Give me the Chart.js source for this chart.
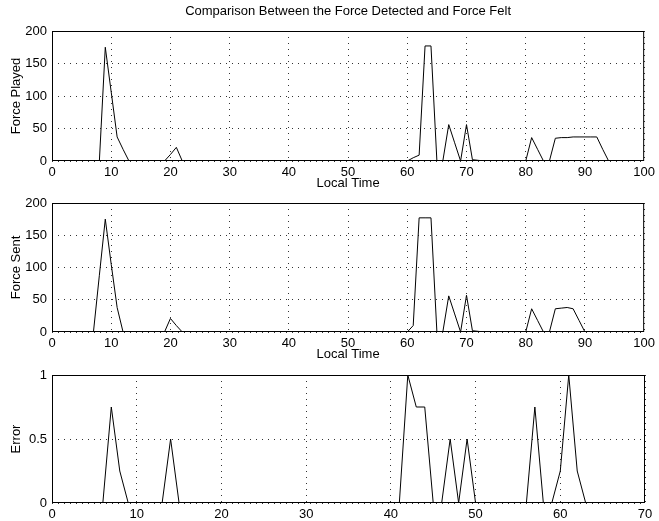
<!DOCTYPE html>
<html>
<head>
<meta charset="utf-8">
<title>Comparison Between the Force Detected and Force Felt</title>
<script src="https://cdn.jsdelivr.net/npm/chart.js@4.4.1/dist/chart.umd.min.js"></script>
<style>
  html, body { margin: 0; padding: 0; background: #fff; }
  #wrap { position: relative; width: 659px; height: 521px; }
  #wrap canvas { position: absolute; left: 0; top: 0; }
</style>
</head>
<body>
<div id="wrap">
  <canvas id="playedChart" width="659" height="521"></canvas>
  <canvas id="sentChart" width="659" height="521"></canvas>
  <canvas id="errorChart" width="659" height="521"></canvas>
</div>
<script>
// x categories (local time steps)
const localTime = Array.from({ length: 101 }, (_, i) => i);
const errorTime = Array.from({ length: 71 }, (_, i) => i);

// tick labels
const timeTicks = [0, 10, 20, 30, 40, 50, 60, 70, 80, 90, 100];
const errorTimeTicks = [0, 10, 20, 30, 40, 50, 60, 70];
const forceTicks = [0, 50, 100, 150, 200];
const errorTicks = [0, 0.5, 1];

// series
const forcePlayed = [
    0, 0, 0, 0, 0, 0, 0, 0, 0, 175,      // 0-9
    106, 37, 18, 0, 0, 0, 0, 0, 0, 0,    // 10-19
    10, 21, 0, 0, 0, 0, 0, 0, 0, 0,      // 20-29
    0, 0, 0, 0, 0, 0, 0, 0, 0, 0,        // 30-39
    0, 0, 0, 0, 0, 0, 0, 0, 0, 0,        // 40-49
    0, 0, 0, 0, 0, 0, 0, 0, 0, 0,        // 50-59
    0, 5, 9, 177, 177, 0, 0, 56, 28, 0,  // 60-69
    56, 2, 1, 0, 0, 0, 0, 0, 0, 0,       // 70-79
    0, 36, 18, 0, 0, 35, 36, 36, 37, 37, // 80-89
    37, 37, 37, 18, 0, 0, 0, 0, 0, 0,    // 90-99
    0
];

const forceSent = [
    0, 0, 0, 0, 0, 0, 0, 0, 88, 175,     // 0-9
    105, 38, 0, 0, 0, 0, 0, 0, 0, 0,     // 10-19
    21, 10, 0, 0, 0, 0, 0, 0, 0, 0,      // 20-29
    0, 0, 0, 0, 0, 0, 0, 0, 0, 0,        // 30-39
    0, 0, 0, 0, 0, 0, 0, 0, 0, 0,        // 40-49
    0, 0, 0, 0, 0, 0, 0, 0, 0, 0,        // 50-59
    0, 10, 177, 177, 177, 0, 0, 56, 28, 0, // 60-69
    57, 2, 1, 0, 0, 0, 0, 0, 0, 0,       // 70-79
    0, 36, 18, 0, 0, 36, 37, 38, 36, 18, // 80-89
    0, 0, 0, 0, 0, 0, 0, 0, 0, 0,        // 90-99
    0
];

const errorValues = [
    0, 0, 0, 0, 0, 0, 0, 0.75, 0.25, 0,  // 0-9
    0, 0, 0, 0, 0.5, 0, 0, 0, 0, 0,      // 10-19
    0, 0, 0, 0, 0, 0, 0, 0, 0, 0,        // 20-29
    0, 0, 0, 0, 0, 0, 0, 0, 0, 0,        // 30-39
    0, 0, 1, 0.75, 0.75, 0, 0, 0.5, 0, 0.5, // 40-49
    0, 0, 0, 0, 0, 0, 0, 0.75, 0, 0,     // 50-59
    0.25, 1, 0.25, 0, 0, 0, 0, 0, 0, 0,  // 60-69
    0
];

Chart.defaults.font.family = '"Liberation Sans", Arial, Helvetica, sans-serif';
Chart.defaults.font.size = 13;
Chart.defaults.color = '#000';
Chart.defaults.animation = false;

// draws the closed axes box like matlab
const boxPlugin = {
    id: 'axesBox',
    afterDatasetsDraw(chart) {
        const a = chart.chartArea;
        const ctx = chart.ctx;
        ctx.save();
        ctx.strokeStyle = '#000';
        ctx.lineWidth = 1;
        ctx.strokeRect(a.left + 0.5, a.top + 0.5, a.right - a.left - 1, a.bottom - a.top - 1);
        ctx.restore();
    }
};

function makePanel(canvasId, cfg) {
    const ctx = document.getElementById(canvasId).getContext('2d');
    return new Chart(ctx, {
        type: 'line',
        data: {
            labels: cfg.labels,
            datasets: [{
                data: cfg.values,
                borderColor: '#000',
                borderWidth: 1,
                pointRadius: 0,
                tension: 0,
                fill: false
            }]
        },
        options: {
            responsive: false,
            devicePixelRatio: 1,
            layout: {
                padding: { left: 0, right: 14, top: cfg.padTop, bottom: cfg.padBottom }
            },
            plugins: {
                legend: { display: false },
                tooltip: { enabled: false },
                title: cfg.title ? {
                    display: true,
                    text: cfg.title,
                    fullSize: false,
                    font: { size: 13, weight: 'normal' },
                    padding: { top: 4, bottom: 11.4 }
                } : { display: false }
            },
            scales: {
                x: {
                    type: 'linear',
                    min: cfg.xTicks[0],
                    max: cfg.xTicks[cfg.xTicks.length - 1],
                    afterBuildTicks: s => { s.ticks = cfg.xTicks.map(v => ({ value: v })); },
                    afterFit: s => { s.height = cfg.xHeight; },
                    grid: { color: '#333', lineWidth: 1, drawTicks: false },
                    border: { display: false, dash: [1, 5] },
                    ticks: { padding: 4, maxRotation: 0, autoSkip: false, callback: v => String(v) },
                    title: {
                        display: !!cfg.xTitle,
                        text: cfg.xTitle || '',
                        padding: { top: 0, bottom: 0 }
                    }
                },
                y: {
                    min: cfg.yTicks[0],
                    max: cfg.yTicks[cfg.yTicks.length - 1],
                    afterBuildTicks: s => { s.ticks = cfg.yTicks.map(v => ({ value: v })); },
                    afterFit: s => { s.width = 52; },
                    grid: { color: '#333', lineWidth: 1, drawTicks: false },
                    border: { display: false, dash: [1, 5] },
                    ticks: { padding: 5, autoSkip: false, callback: v => String(v) },
                    title: {
                        display: true,
                        text: cfg.yTitle,
                        padding: { top: 9, bottom: 0 }
                    }
                }
            }
        },
        plugins: [boxPlugin]
    });
}

// Force Played panel
makePanel('playedChart', {
    labels: localTime,
    values: forcePlayed,
    xTicks: timeTicks,
    yTicks: forceTicks,
    title: 'Comparison Between the Force Detected and Force Felt',
    xTitle: 'Local Time',
    yTitle: 'Force Played',
    xHeight: 30,
    padTop: 0,
    padBottom: 330
});

// Force Sent panel
makePanel('sentChart', {
    labels: localTime,
    values: forceSent,
    xTicks: timeTicks,
    yTicks: forceTicks,
    xTitle: 'Local Time',
    yTitle: 'Force Sent',
    xHeight: 30,
    padTop: 203,
    padBottom: 159
});

// Error panel
makePanel('errorChart', {
    labels: errorTime,
    values: errorValues,
    xTicks: errorTimeTicks,
    yTicks: errorTicks,
    yTitle: 'Error',
    xHeight: 18,
    padTop: 375,
    padBottom: 0
});
</script>
</body>
</html>
